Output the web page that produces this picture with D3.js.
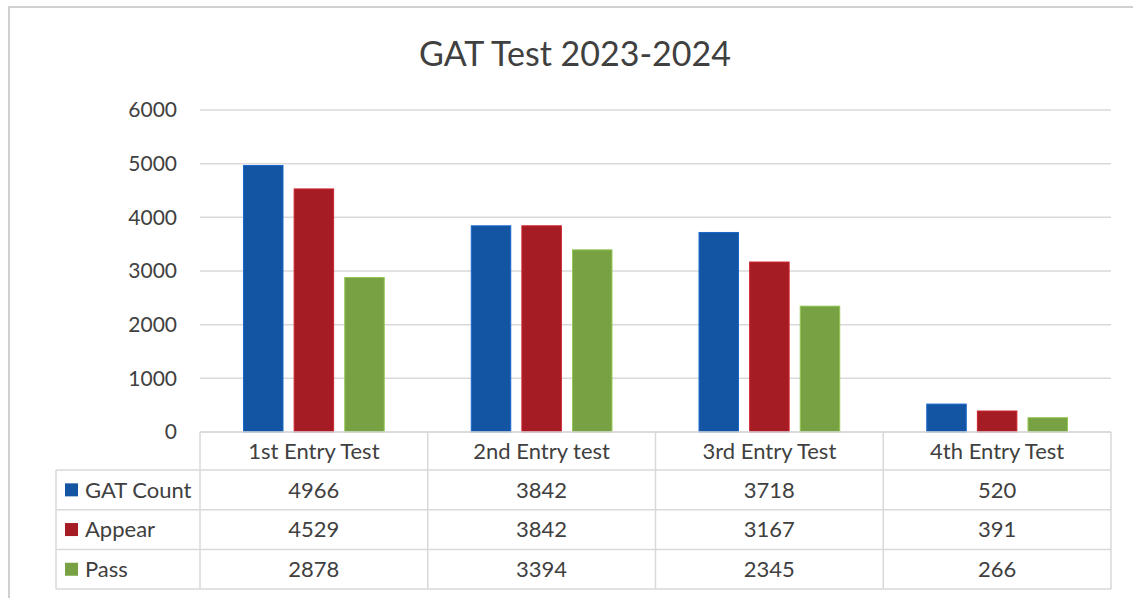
<!DOCTYPE html>
<html lang="en">
<head>
<meta charset="UTF-8">
<title>GAT Test 2023-2024</title>
<script src="https://d3js.org/d3.v7.min.js"></script>
<style>
  body { margin: 0; background: #fff; font-family: Lato, "Open Sans", sans-serif; }
  svg { display: block; }
</style>
</head>
<body>
<svg id="chart" width="1133" height="598"></svg>
<script>
const categories = ["1st Entry Test", "2nd Entry test", "3rd Entry Test", "4th Entry Test"];
const seriesNames = ["GAT Count", "Appear", "Pass"];
const gatCount = [4966, 3842, 3718, 520];
const appear = [4529, 3842, 3167, 391];
const pass = [2878, 3394, 2345, 266];
const yTicks = [0, 1000, 2000, 3000, 4000, 5000, 6000];
const colors = ["#1354a3", "#a61c24", "#77a142"];

const seriesValues = [gatCount, appear, pass];

const svg = d3.select("#chart");
const textColor = "#404040";
const lineColor = "#d9d9d9";

// outer chart frame
svg.append("rect")
  .attr("x", 9).attr("y", 7)
  .attr("width", 1140).attr("height", 620)
  .attr("fill", "none").attr("stroke", "#d0d0d0").attr("stroke-width", 2);

svg.append("text")
  .attr("x", 575).attr("y", 66)
  .attr("text-anchor", "middle")
  .attr("fill", textColor)
  .attr("font-size", 34)
  .text("GAT Test 2023-2024");

const plot = { left: 200, right: 1111, top: 110, bottom: 432 };

const y = d3.scaleLinear().domain([0, 6000]).range([plot.bottom, plot.top]);
const x0 = d3.scaleBand().domain(categories).range([plot.left, plot.right]);
const x1 = d3.scaleBand().domain(seriesNames).range([0, x0.bandwidth()])
  .paddingInner(0.22).paddingOuter(0.86);

// gridlines + labels
const yAxis = svg.append("g");
yAxis.selectAll("line").data(yTicks).join("line")
  .attr("x1", plot.left).attr("x2", plot.right)
  .attr("y1", d => y(d)).attr("y2", d => y(d))
  .attr("stroke", lineColor).attr("stroke-width", 1.5);
yAxis.selectAll("text").data(yTicks).join("text")
  .attr("x", 177).attr("y", d => y(d))
  .attr("dy", "0.35em")
  .attr("text-anchor", "end")
  .attr("fill", textColor)
  .attr("font-size", 21)
  .text(d => d);

// bars
const groups = svg.append("g").selectAll("g").data(categories).join("g")
  .attr("transform", d => `translate(${x0(d)},0)`);
groups.selectAll("rect")
  .data((c, i) => seriesNames.map((s, j) => ({ s, j, v: seriesValues[j][i] })))
  .join("rect")
  .attr("x", d => x1(d.s))
  .attr("y", d => y(d.v))
  .attr("width", x1.bandwidth())
  .attr("height", d => y(0) - y(d.v))
  .attr("fill", d => colors[d.j])
  .attr("stroke", d => d3.color(colors[d.j]).brighter(0.6))
  .attr("stroke-width", 1);

// data table
const rowTop = plot.bottom;
const headerH = 38;
const rowH = 39.7;
const tableLeft = 56;
const fontTable = 22;
const table = svg.append("g");

// header row
table.append("line")
  .attr("x1", plot.left).attr("x2", plot.right)
  .attr("y1", rowTop).attr("y2", rowTop)
  .attr("stroke", lineColor).attr("stroke-width", 1.5);
categories.forEach(c => {
  table.append("text")
    .attr("x", x0(c) + x0.bandwidth() / 2)
    .attr("y", rowTop + headerH / 2)
    .attr("dy", "0.35em")
    .attr("text-anchor", "middle")
    .attr("fill", textColor)
    .attr("font-size", fontTable)
    .text(c);
});

// horizontal lines of body rows
for (let r = 0; r <= seriesNames.length; r++) {
  const yy = rowTop + headerH + r * rowH;
  table.append("line")
    .attr("x1", tableLeft).attr("x2", plot.right)
    .attr("y1", yy).attr("y2", yy)
    .attr("stroke", lineColor).attr("stroke-width", 1.5);
}
const tableBottom = rowTop + headerH + seriesNames.length * rowH;

// vertical lines
table.append("line")
  .attr("x1", tableLeft).attr("x2", tableLeft)
  .attr("y1", rowTop + headerH).attr("y2", tableBottom)
  .attr("stroke", lineColor).attr("stroke-width", 1.5);
categories.forEach(c => {
  table.append("line")
    .attr("x1", x0(c)).attr("x2", x0(c))
    .attr("y1", rowTop).attr("y2", tableBottom)
    .attr("stroke", lineColor).attr("stroke-width", 1.5);
});
table.append("line")
  .attr("x1", plot.right).attr("x2", plot.right)
  .attr("y1", rowTop).attr("y2", tableBottom)
  .attr("stroke", lineColor).attr("stroke-width", 1.5);

// body rows
seriesNames.forEach((s, j) => {
  const cy = rowTop + headerH + j * rowH + rowH / 2;
  table.append("rect")
    .attr("x", 65).attr("y", cy - 6.5)
    .attr("width", 13).attr("height", 13)
    .attr("fill", colors[j]);
  table.append("text")
    .attr("x", 85).attr("y", cy)
    .attr("dy", "0.35em")
    .attr("fill", textColor)
    .attr("font-size", fontTable)
    .text(s);
  categories.forEach((c, i) => {
    table.append("text")
      .attr("x", x0(c) + x0.bandwidth() / 2)
      .attr("y", cy)
      .attr("dy", "0.35em")
      .attr("text-anchor", "middle")
      .attr("fill", textColor)
      .attr("font-size", fontTable)
      .text(seriesValues[j][i]);
  });
});
</script>
</body>
</html>
